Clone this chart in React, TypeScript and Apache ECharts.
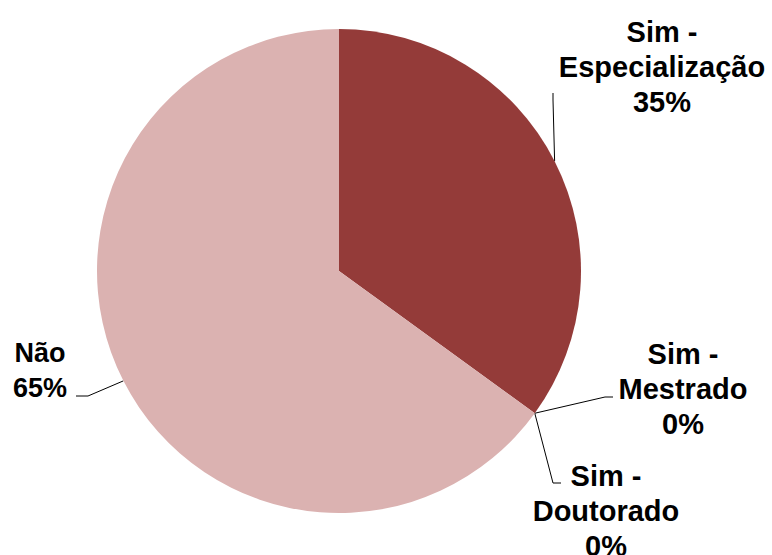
import React, { useEffect, useRef } from "react";
import * as echarts from "echarts";

const categories = ["Sim -\nEspecialização", "Sim -\nMestrado", "Sim -\nDoutorado", "Não"];
const values = [35, 0, 0, 65];
const percentLabels = ["35%", "0%", "0%", "65%"];
const colors = ["#943B39", "#DBB2B1", "#DBB2B1", "#DBB2B1"];

// label placement (layout only)
const labelPos = [
  { x: 662, y: 67, size: 29, line: [[553, 100], [553, 93]] },
  { x: 683, y: 389, size: 29, line: [[605, 397], [613, 397]] },
  { x: 606, y: 511, size: 29, line: [[553, 483], [561, 483]] },
  { x: 40, y: 370, size: 27, line: [[88, 396], [76, 396]] },
];

export default function App() {
  const ref = useRef<HTMLDivElement>(null);
  useEffect(() => {
    if (!ref.current) return;
    const chart = echarts.init(ref.current, undefined, { renderer: "svg" });
    chart.setOption({
      animation: false,
      backgroundColor: "#ffffff",
      series: [
        {
          type: "pie",
          center: [339, 271],
          radius: 242,
          startAngle: 90,
          clockwise: true,
          avoidLabelOverlap: false,
          minShowLabelAngle: -1,
          data: categories.map((c, i) => ({
            name: c,
            value: values[i],
            itemStyle: { color: colors[i] },
            label: { formatter: c + "\n" + percentLabels[i], fontSize: labelPos[i].size },
          })),
          itemStyle: { borderWidth: 0 },
          label: {
            show: true,
            position: "outside",
            fontFamily: "Liberation Sans, Arial, sans-serif",
            fontWeight: "bold",
            fontSize: 28,
            lineHeight: 35,
            color: "#000000",
            align: "center",
          },
          labelLine: {
            show: true,
            length: 10,
            length2: 10,
            smooth: false,
            lineStyle: { color: "#000000", width: 1 },
          },
          labelLayout: (params: any) => {
            const p = labelPos[params.dataIndex];
            const start = params.labelLinePoints ? params.labelLinePoints[0] : p.line[0];
            return {
              x: p.x,
              y: p.y,
              align: "center",
              verticalAlign: "middle",
              hideOverlap: false,
              labelLinePoints: [start, p.line[0], p.line[1]],
            };
          },
        },
      ],
    });
    return () => chart.dispose();
  }, []);
  return (
    <div
      ref={ref}
      style={{ position: "fixed", left: 0, top: 0, width: 772, height: 555, background: "#fff" }}
    />
  );
}
